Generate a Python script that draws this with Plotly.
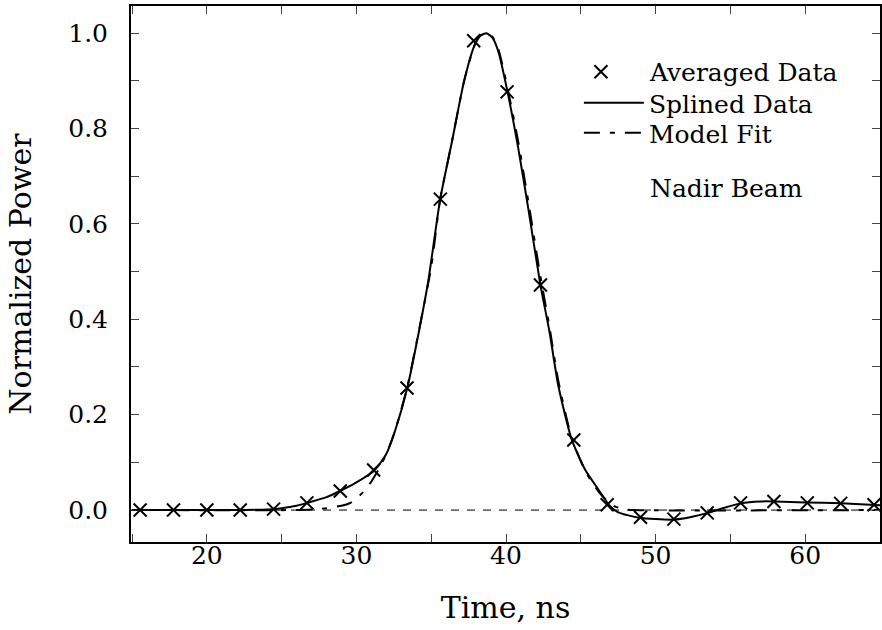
import plotly.graph_objects as go

# Averaged data (markers)
avg_t = [15.54, 17.77, 20.0, 22.23, 24.46, 26.69, 28.92, 31.15, 33.38, 35.61, 37.84,
         40.07, 42.3, 44.53, 46.76, 48.99, 51.22, 53.45, 55.68, 57.91, 60.14, 62.37, 64.6]
avg_p = [0.0, 0.0, 0.0, 0.0, 0.002, 0.015, 0.04, 0.084, 0.256, 0.652, 0.984,
         0.877, 0.472, 0.147, 0.011, -0.015, -0.019, -0.006, 0.015, 0.018, 0.015, 0.014, 0.011]

# Splined data (solid curve)
spl_t = [15.0, 20.0, 22.0, 24.0, 25.0, 26.0, 26.7, 28.0, 28.9, 30.0, 31.2, 32.0, 32.6,
         33.4, 34.2, 34.8, 35.6, 36.4, 37.2, 37.9, 38.3, 38.7, 39.1, 39.5, 40.1, 40.8, 41.5, 42.3,
         42.9, 43.5, 44.4, 45.3, 46.2, 46.9, 47.5, 48.9, 50.0, 51.2, 52.3, 53.5, 54.6,
         55.7, 57.0, 58.0, 60.0, 62.4, 65.0]
spl_p = [0.0, 0.0, 0.0, 0.001, 0.004, 0.009, 0.015, 0.027, 0.04, 0.058, 0.083, 0.118, 0.168,
         0.256, 0.378, 0.48, 0.652, 0.775, 0.9, 0.975, 0.995, 1.0, 0.99, 0.96, 0.877, 0.762, 0.63, 0.472,
         0.375, 0.26, 0.147, 0.084, 0.042, 0.01, -0.005, -0.016, -0.019, -0.02, -0.015, -0.006, 0.005,
         0.014, 0.018, 0.018, 0.016, 0.014, 0.01]

# Model fit (dashed curve)
fit_t = [15.0, 26.0, 27.0, 28.0, 29.0, 29.6, 30.4, 31.0, 31.6, 32.1, 32.6, 33.4, 34.2,
         35.0, 35.6, 36.4, 37.2, 37.9, 38.3, 38.7, 39.1, 39.5, 40.1, 40.8, 41.5, 42.3, 42.9, 43.5,
         44.4, 45.3, 46.2, 47.0, 47.8, 48.5, 65.0]
fit_p = [0.0, 0.0, 0.001, 0.004, 0.009, 0.015, 0.036, 0.06, 0.092, 0.125, 0.168, 0.258, 0.38,
         0.51, 0.652, 0.775, 0.9, 0.975, 0.995, 1.0, 0.992, 0.965, 0.885, 0.775, 0.645, 0.49, 0.385, 0.27,
         0.15, 0.082, 0.038, 0.012, 0.002, 0.0, 0.0]

x_ticks = [20, 30, 40, 50, 60]
y_ticks = [0.0, 0.2, 0.4, 0.6, 0.8, 1.0]

FONT = "DejaVu Serif"
FS = 25

def leg(x, y, iw):
    return dict(x=x, y=y, xanchor="left", yanchor="middle", bgcolor="rgba(0,0,0,0)",
                font=dict(family=FONT, size=FS), itemwidth=iw)

fig = go.Figure()
fig.add_hline(y=0, line=dict(color="black", width=1, dash="8px,8px"))
fig.add_trace(go.Scatter(x=fit_t, y=fit_p, mode="lines", name="Model Fit", legend="legend3",
                         line=dict(color="black", width=2, dash="16px,10px,5px,10px", shape="spline",
                                   smoothing=0.6)))
fig.add_trace(go.Scatter(x=spl_t, y=spl_p, mode="lines", name="Splined Data", legend="legend2",
                         line=dict(color="black", width=2, shape="spline", smoothing=0.6)))
fig.add_trace(go.Scatter(x=avg_t, y=avg_p, mode="markers", name="Averaged Data", legend="legend",
                         marker=dict(symbol="x-thin", size=13, color="black",
                                     line=dict(color="black", width=2))))

fig.update_layout(
    width=882, height=630,
    margin=dict(l=131, r=0, t=6, b=88),
    paper_bgcolor="white", plot_bgcolor="white",
    font=dict(family=FONT, size=FS, color="black"),
    showlegend=True,
    legend=leg(0.562, 0.877, 88), legend2=leg(0.598, 0.819, 60), legend3=leg(0.598, 0.763, 60),
    annotations=[dict(text="Nadir Beam", xref="paper", yref="paper", x=0.690, y=0.660,
                      xanchor="left", yanchor="middle", showarrow=False,
                      font=dict(family=FONT, size=FS))],
)
fig.update_xaxes(range=[14.93, 65.0], tickvals=x_ticks, ticks="inside", ticklen=8, tickwidth=1,
                 showline=True, linewidth=2, linecolor="black", mirror="ticks", showgrid=False,
                 zeroline=False, minor=dict(dtick=5, ticks="inside", ticklen=8, tick0=0),
                 title=dict(text="Time, ns", standoff=28), ticklabelstandoff=-10)
fig.update_yaxes(range=[-0.067, 1.057], tickvals=y_ticks, tickformat=".1f", ticks="inside",
                 ticklen=8, tickwidth=1, showline=True, linewidth=2, linecolor="black",
                 mirror="ticks", showgrid=False, zeroline=False,
                 minor=dict(dtick=0.1, ticks="inside", ticklen=8, tick0=0),
                 title=dict(text="Normalized Power", standoff=28), ticklabelstandoff=16)

fig.write_html("out.html")
